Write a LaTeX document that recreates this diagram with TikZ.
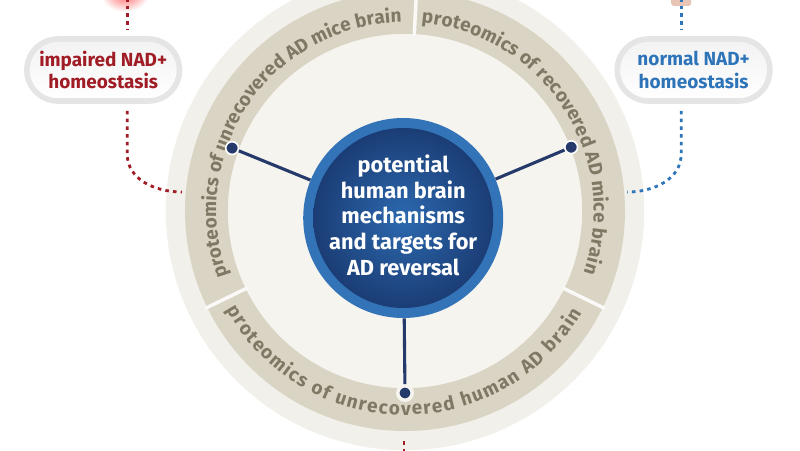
\documentclass[tikz,border=0pt]{standalone}
\usepackage{fontspec}
\setmainfont{Fira Sans}
\usetikzlibrary{decorations.text,shapes.misc}
\definecolor{adred}{HTML}{A01D26}
\definecolor{adblue}{HTML}{2E74B9}
\definecolor{navy}{HTML}{253A6B}
\definecolor{band}{HTML}{D9D4C3}
\definecolor{bandtext}{HTML}{7F7864}
\definecolor{cream}{HTML}{F2F0EA}
\definecolor{creamin}{HTML}{F6F4EF}
\definecolor{hubrim}{HTML}{3373B8}
\definecolor{hubin}{HTML}{2C69AF}
\definecolor{hubout}{HTML}{1B3D75}
\definecolor{skin}{HTML}{E8C4B6}
\tikzset{
  pill/.style={rounded rectangle, draw=gray!20, line width=4pt, top color=white!90!gray,
    bottom color=white, minimum width=4.05cm, minimum height=1.55cm, align=center,
    font=\bfseries\fontsize{13.5}{15.8}\selectfont},
  spoke/.style={draw=navy, line width=2.2pt},
  knob/.style={circle, fill=navy, draw=white!70!creamin, line width=1.2pt, inner sep=0pt, minimum size=0.32cm},
  reddots/.style={draw=adred, line width=2pt, dash pattern=on 2.5pt off 3pt},
  bluedots/.style={draw=adblue, line width=2pt, dash pattern=on 2.5pt off 3pt},
  ringtext/.style={decorate, decoration={text along path, text align={fit to path},
    text color=bandtext, text={|\bfseries\fontsize{13.5}{15}\selectfont|#1}}}
}
\begin{document}
\begin{tikzpicture}
  \useasboundingbox (0,0) rectangle (20,11.25);
  \coordinate (C) at (10.125,5.975);

  \fill[cream] (C) circle (5.98);
  \fill[creamin] (C) circle (4.43);
  \fill[band, even odd rule] (C) circle (5.5) (C) circle (4.43);
  \foreach \a in {87,206,334}
    \draw[white!60!cream, line width=2.5pt] ([shift={(\a:4.38)}]C) -- ([shift={(\a:5.56)}]C);

  \path[ringtext={proteomics of unrecovered AD mice brain}]
    ([shift={(200:4.72)}]C) arc[start angle=200, end angle=91, radius=4.72];
  \path[ringtext={proteomics of recovered AD mice brain}]
    ([shift={(85:4.72)}]C) arc[start angle=85, end angle=-19, radius=4.72];
  \path[ringtext={proteomics of unrecovered human AD brain}]
    ([shift={(209:5.1)}]C) arc[start angle=209, end angle=330, radius=5.1];

  \node[circle, fill=hubrim, minimum size=5cm, name=hub] at (10.08,5.8) {};
  \shade[inner color=hubin, outer color=hubout] (hub.center) circle (2.25);
  \node[align=center, text=white, font=\bfseries\fontsize{15.5}{18.2}\selectfont, name=hubtext] at ([yshift=2pt]hub.center)
    {potential\\human brain\\mechanisms\\and targets for\\AD reversal};

  \node[knob, name=kl] at ([shift={(160:4.6)}]C) {};
  \node[knob, name=kr] at ([shift={(21:4.45)}]C) {};
  \node[knob, draw=creamin, line width=2.5pt, minimum size=0.36cm, name=kb] at ([shift={(270:4.55)}]C) {};
  \path[spoke]
     (hub) edge (kl)
     (hub) edge (kr)
     (hub) edge (kb);

  \shade[inner color=red!60, outer color=white] (3.12,11.4) ellipse (0.6 and 0.45);
  \fill[skin, rounded corners=2pt] (16.78,11.4) rectangle (17.28,11.1);

  \node[pill, text=adred, name=lpill] at (2.58,9.5) {impaired NAD+\\homeostasis};
  \node[pill, text=adblue, name=rpill] at (17.34,9.5) {normal NAD+\\homeostasis};

  \coordinate (ltop) at (3.18,11.3);
  \coordinate (rtop) at (17.03,11.3);
  \coordinate (lend) at (4.55,6.45);
  \coordinate (rend) at (15.68,6.45);
  \coordinate (bdot) at (10.1,0.22);
  \coordinate (bend) at (10.1,-0.6);

  \draw[reddots, shorten >=5pt] (ltop) -- (lpill.north -| ltop);
  \draw[reddots, shorten <=5pt] (lpill.south -| ltop) -- ++(0,-1.25) to[out=-90, in=180] (lend);
  \draw[bluedots, shorten >=5pt] (rtop) -- (rpill.north -| rtop);
  \draw[bluedots, shorten <=5pt] (rpill.south -| rtop) -- ++(0,-1.25) to[out=-90, in=0] (rend);
  \draw[reddots] (bdot) -- (bend);
\end{tikzpicture}
\end{document}
